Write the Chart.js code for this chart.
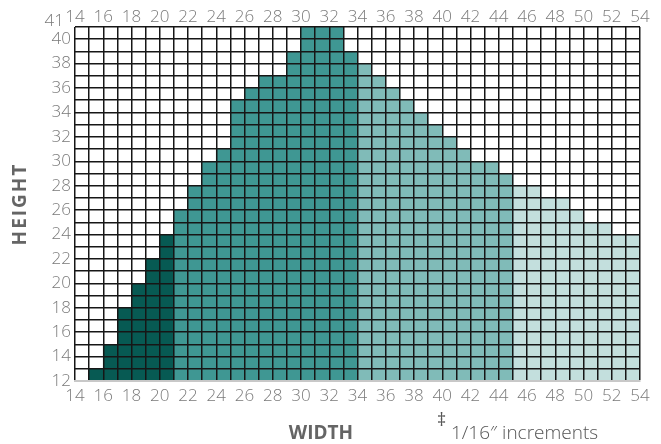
<!DOCTYPE html>
<html>
<head>
<meta charset="utf-8">
<script src="https://cdn.jsdelivr.net/npm/chart.js@4"></script>
<style>
  html, body { margin: 0; padding: 0; background: #ffffff; }
  #c { display: block; }
</style>
</head>
<body>
<canvas id="c" width="661" height="444"></canvas>
<script>
// ---- data ----
const widths  = [15,16,17,18,19,20,21,22,23,24,25,26,27,28,29,30,31,32,33,34,35,36,37,38,39,40,41,42,43,44,45,46,47,48,49,50,51,52,53];
const heights = [13,15,18,20,22,24,26,28,30,31,35,36,37,37,39,41,41,41,39,38,37,36,35,34,33,32,31,30,30,29,28,28,27,27,26,25,25,24,24];
const groupStarts = [15, 21, 34, 45];   // first width of each colour band
const groupEnds   = [20, 33, 44, 53];   // last width of each colour band
const xTicks = [14,16,18,20,22,24,26,28,30,32,34,36,38,40,42,44,46,48,50,52,54];
const yTicks = [12,14,16,18,20,22,24,26,28,30,32,34,36,38,40];
const yTopLabel = '41';

// ---- styles ----
const bandColors = ['#075a53', '#3f9793', '#80bbb8', '#c3dfdd'];
const gridColor = '#161616';
const tickColor = '#7a7a7a';
const tickFont = { family: "'Open Sans', sans-serif", size: 17, weight: '300' };

const datasets = groupStarts.map((s, g) => ({
  data: widths.map((w, i) => ({ w, h: heights[i] }))
              .filter(d => d.w >= s && d.w <= groupEnds[g])
              .map(d => ({ x: d.w + 0.5, y: [12, d.h] })),
  backgroundColor: bandColors[g],
  borderWidth: 0,
  barPercentage: 1,
  categoryPercentage: 1,
  grouped: false
}));

const textPlugin = {
  id: 'texts',
  afterDraw(chart) {
    const ctx = chart.ctx;
    ctx.save();
    // top "41" label
    ctx.fillStyle = tickColor;
    ctx.font = "300 17px 'Open Sans', sans-serif";
    ctx.textAlign = 'right';
    ctx.textBaseline = 'middle';
    ctx.fillText(yTopLabel, 64, 21);

    ctx.fillStyle = '#656565';
    ctx.font = "bold 19px 'Open Sans', sans-serif";
    ctx.textAlign = 'center';
    ctx.textBaseline = 'middle';
    try { ctx.letterSpacing = '2px'; } catch (e) {}
    // HEIGHT
    ctx.save();
    ctx.translate(21, 204);
    ctx.rotate(-Math.PI / 2);
    ctx.fillText('HEIGHT', 0, 0);
    ctx.restore();
    try { ctx.letterSpacing = '0px'; } catch (e) {}
    // WIDTH
    ctx.fillText('WIDTH', 321, 434);
    // footnote
    ctx.fillStyle = '#555555';
    ctx.textAlign = 'left';
    ctx.font = "18px 'Open Sans', sans-serif";
    ctx.fillText('‡', 437, 421);
    ctx.font = "300 19px 'Open Sans', sans-serif";
    ctx.fillText('1/16″ increments', 451, 434);
    ctx.restore();
  }
};

const everyUnit = (lo, hi) => s => { s.ticks = []; for (let v = lo; v <= hi; v++) s.ticks.push({ value: v }); };

new Chart(document.getElementById('c'), {
  type: 'bar',
  data: { datasets },
  options: {
    responsive: false,
    animation: false,
    layout: { padding: { left: 0, right: 21, top: 0, bottom: 0 } },
    plugins: { legend: { display: false }, tooltip: { enabled: false } },
    scales: {
      x: {
        type: 'linear',
        position: 'bottom',
        offset: false,
        min: 14, max: 54,
        afterFit: s => { s.height = 63; },
        afterBuildTicks: everyUnit(14, 54),
        ticks: {
          autoSkip: false, maxRotation: 0, padding: 5,
          color: tickColor, font: tickFont,
          callback: v => xTicks.includes(v) ? String(v) : ''
        },
        grid: { offset: false, color: gridColor, lineWidth: 1.5, drawTicks: false, z: 1 },
        border: { display: true, color: '#c8c8c8', width: 2, z: 2 }
      },
      x2: {
        type: 'linear',
        position: 'top',
        offset: false,
        min: 14, max: 54,
        afterFit: s => { s.height = 27; },
        afterBuildTicks: everyUnit(14, 54),
        ticks: {
          autoSkip: false, maxRotation: 0, padding: 0,
          color: tickColor, font: tickFont,
          callback: v => xTicks.includes(v) ? String(v) : ''
        },
        grid: { display: false, drawTicks: false },
        border: { display: false }
      },
      y: {
        type: 'linear',
        min: 12, max: 41,
        afterFit: s => { s.width = 75; },
        afterBuildTicks: everyUnit(12, 41),
        ticks: {
          autoSkip: false, padding: 4,
          color: tickColor, font: tickFont,
          callback: v => yTicks.includes(v) ? String(v) : ''
        },
        grid: {
          lineWidth: 1.5, drawTicks: false, z: 1,
          color: c => (c.tick && c.tick.value === 12) ? 'rgba(0,0,0,0)' : gridColor
        },
        border: { display: false }
      }
    }
  },
  plugins: [textPlugin]
});
</script>
</body>
</html>
